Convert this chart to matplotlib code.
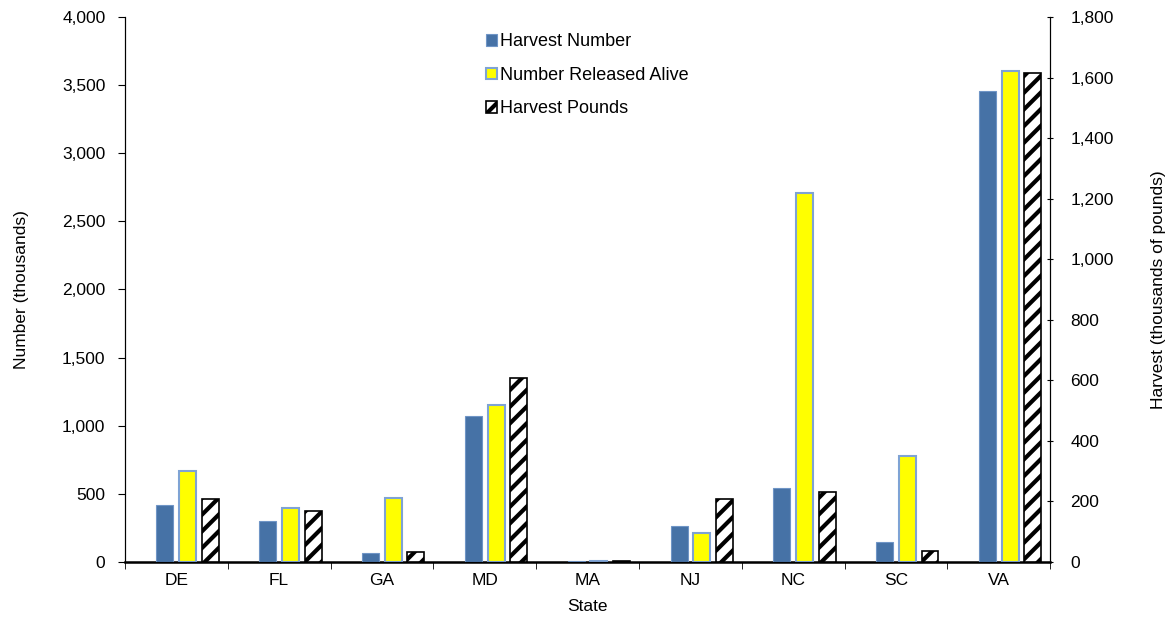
import matplotlib
matplotlib.use("Agg")
import matplotlib.pyplot as plt
import numpy as np
from matplotlib.ticker import FuncFormatter

plt.rcParams['font.family'] = ['Liberation Sans', 'DejaVu Sans']
plt.rcParams['hatch.linewidth'] = 3.0

states = ['DE', 'FL', 'GA', 'MD', 'MA', 'NJ', 'NC', 'SC', 'VA']
harvest_number = [415, 300, 65, 1075, 5, 265, 540, 150, 3455]     # thousands
released_alive = [665, 395, 470, 1150, 5, 210, 2710, 780, 3605]   # thousands
harvest_pounds = [208, 168, 33, 607, 2, 208, 230, 37, 1615]       # thousands of pounds

x = np.arange(len(states))
w = 0.165

fig = plt.figure(figsize=(11.67, 6.24), dpi=100)
ax = fig.add_axes([0.107, 0.0994, 0.793, 0.8734])
ax2 = ax.twinx()

ax.bar(x - 0.11, harvest_number, w, color='#4672A6', edgecolor='#6F95C6', linewidth=0.8,
       label='Harvest Number', zorder=3)
ax.bar(x + 0.11, released_alive, w, color='#FFFF00', edgecolor='#7FA3D4', linewidth=1.5,
       label='Number Released Alive', zorder=3)
ax2.bar(x + 0.33, harvest_pounds, w, color='white', edgecolor='black', hatch='//', linewidth=1.2,
        label='Harvest Pounds', zorder=3)

ax.set_xlim(-0.5, len(states) - 0.5)
ax.set_ylim(0, 4000)
ax2.set_ylim(0, 1800)
ax.set_yticks(np.arange(0, 4001, 500))
ax2.set_yticks(np.arange(0, 1801, 200))
fmt = FuncFormatter(lambda v, p: f'{int(v):,}')
ax.yaxis.set_major_formatter(fmt)
ax2.yaxis.set_major_formatter(fmt)

ax.set_xticks(x)
ax.set_xticklabels(states)
ax.set_xticks(np.arange(-0.5, len(states)), minor=True)
ax.tick_params(axis='x', which='major', length=0, labelsize=12.5, pad=8)
ax.tick_params(axis='x', which='minor', length=5, direction='out')
ax.tick_params(axis='y', length=5, direction='out', labelsize=12.5, pad=9)
ax2.tick_params(axis='y', length=5, direction='inout', labelsize=12.5, pad=12)

ax.spines['top'].set_visible(False)
ax2.spines['top'].set_visible(False)
ax.spines['bottom'].set_linewidth(1.8)

ax.set_xlabel('State', fontsize=12.5, labelpad=8)
ax.set_ylabel('Number (thousands)', fontsize=12.5, labelpad=24)
ax2.set_ylabel('Harvest (thousands of pounds)', fontsize=12.5, labelpad=27)

h1, l1 = ax.get_legend_handles_labels()
h2, l2 = ax2.get_legend_handles_labels()
ax2.legend(h1 + h2, l1 + l2, loc='upper left', bbox_to_anchor=(0.373, 1.0), frameon=False,
           fontsize=13, handlelength=0.6, handleheight=0.6, handletextpad=0.15, labelspacing=0.92)

fig.savefig('out.png', dpi=100)
